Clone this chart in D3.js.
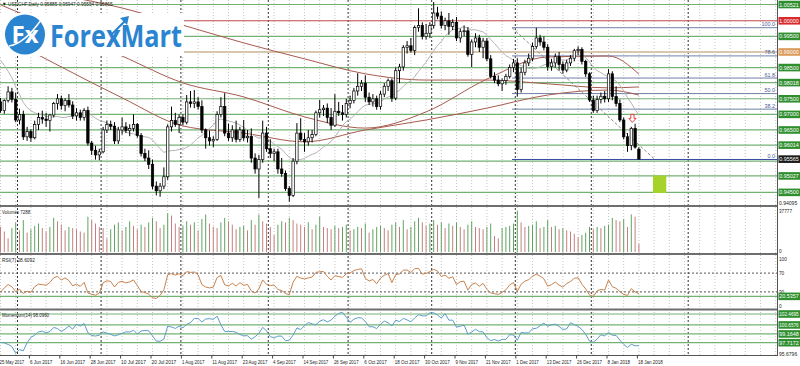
<!DOCTYPE html>
<html><head><meta charset="utf-8">
<script src="https://cdn.jsdelivr.net/npm/d3@7/dist/d3.min.js"></script>
<style>
html,body{margin:0;padding:0;background:#fff;}
svg{display:block;}
text{font-family:"Liberation Sans",Arial,sans-serif;}
</style></head><body>
<svg id="chart" width="800" height="366"></svg>
<script>
// ---------------- DATA ----------------
const titleText = "\u25BC USDCHF,Daily  0.95885 0.95947 0.95554 0.95865";
const tickIdx = [0,8,16,24,32,40,48,56,64,72,80,88,96,104,112,120,128,136,144,152,160,168];
const tickLabels = ["25 May 2017","6 Jun 2017","16 Jun 2017","28 Jun 2017","10 Jul 2017","20 Jul 2017","1 Aug 2017","11 Aug 2017","23 Aug 2017","4 Sep 2017","14 Sep 2017","26 Sep 2017","6 Oct 2017","18 Oct 2017","30 Oct 2017","9 Nov 2017","21 Nov 2017","1 Dec 2017","13 Dec 2017","26 Dec 2017","8 Jan 2018","18 Jan 2018"];

const open = [.9740,.9712,.9744,.9772,.9748,.9682,.9700,.9628,.9645,.9625,
.9668,.9690,.9685,.9680,.9698,.9735,.9750,.9728,.9745,.9730,
.9695,.9705,.9690,.9712,.9608,.9585,.9570,.9580,.9650,.9668,
.9662,.9615,.9650,.9660,.9648,.9655,.9668,.9632,.9575,.9560,
.9540,.9470,.9455,.9470,.9500,.9660,.9680,.9668,.9690,.9675,
.9740,.9735,.9740,.9725,.9650,.9625,.9615,.9620,.9700,.9725,
.9640,.9625,.9650,.9620,.9650,.9625,.9630,.9560,.9525,.9555,
.9640,.9590,.9575,.9580,.9525,.9510,.9462,.9440,.9550,.9640,
.9620,.9612,.9625,.9635,.9705,.9715,.9720,.9690,.9665,.9710,
.9705,.9700,.9735,.9745,.9775,.9790,.9800,.9755,.9740,.9750,
.9725,.9765,.9790,.9808,.9752,.9840,.9852,.9915,.9920,.9905,
.9978,.9985,.9950,.9960,.9985,1.0025,1.0015,.9985,1.0000,.9982,
.9995,.9945,.9965,.9968,.9892,.9932,.9945,.9915,.9935,.9878,
.9822,.9810,.9798,.9808,.9822,.9850,.9865,.9780,.9835,.9865,
.9880,.9918,.9945,.9932,.9915,.9853,.9865,.9885,.9860,.9842,
.9865,.9880,.9904,.9908,.9870,.9830,.9746,.9712,.9748,.9758,
.9750,.9830,.9757,.9735,.9682,.9628,.9600,.9655,.95885];
const high = [.9752,.9748,.9790,.9785,.9770,.9718,.9712,.9660,.9652,.9680,
.9705,.9712,.9705,.9700,.9740,.9765,.9760,.9752,.9765,.9742,
.9720,.9715,.9720,.9725,.9615,.9600,.9590,.9660,.9680,.9680,
.9675,.9660,.9690,.9675,.9668,.9700,.9672,.9640,.9590,.9585,
.9555,.9485,.9480,.9530,.9668,.9725,.9705,.9700,.9700,.9762,
.9775,.9778,.9755,.9745,.9655,.9648,.9630,.9710,.9755,.9768,
.9670,.9665,.9680,.9660,.9682,.9650,.9655,.9575,.9570,.9680,
.9660,.9620,.9590,.9590,.9560,.9520,.9470,.9560,.9672,.9688,
.9640,.9650,.9650,.9712,.9746,.9730,.9735,.9720,.9765,.9740,
.9730,.9750,.9760,.9785,.9832,.9810,.9825,.9770,.9765,.9760,
.9775,.9800,.9815,.9815,.9850,.9862,.9922,.9935,.9945,.9985,
1.0040,.9995,.9990,.9995,1.0060,1.0045,1.0030,1.0010,1.0025,1.0005,
1.0012,.9975,.9985,.9980,.9940,.9960,.9955,.9945,.9945,.9890,
.9835,.9825,.9815,.9830,.9860,.9878,.9880,.9850,.9875,.9895,
.9930,.9978,.9955,.9950,.9925,.9878,.9895,.9900,.9870,.9875,
.9890,.9910,.9918,.9915,.9875,.9835,.9760,.9760,.9770,.9775,
.9845,.9838,.9790,.9748,.9690,.9640,.9660,.9670,.95947];
const low = [.9705,.9702,.9738,.9738,.9675,.9668,.9618,.9615,.9612,.9620,
.9650,.9670,.9660,.9645,.9690,.9715,.9715,.9710,.9722,.9685,
.9680,.9680,.9680,.9600,.9570,.9555,.9553,.9575,.9640,.9650,
.9605,.9605,.9635,.9640,.9630,.9645,.9625,.9565,.9550,.9525,
.9460,.9440,.9436,.9460,.9490,.9645,.9660,.9640,.9665,.9668,
.9722,.9720,.9715,.9640,.9590,.9600,.9595,.9615,.9690,.9630,
.9615,.9612,.9610,.9612,.9615,.9610,.9545,.9510,.9432,.9545,
.9580,.9560,.9550,.9510,.9500,.9455,.9420,.9435,.9540,.9615,
.9580,.9600,.9610,.9630,.9690,.9695,.9672,.9650,.9660,.9695,
.9680,.9690,.9720,.9735,.9760,.9775,.9740,.9730,.9725,.9715,
.9715,.9755,.9775,.9740,.9745,.9800,.9840,.9895,.9898,.9890,
.9965,.9940,.9940,.9945,.9975,1.0005,.9975,.9970,.9955,.9970,
.9935,.9930,.9950,.9885,.9852,.9915,.9900,.9880,.9870,.9815,
.9800,.9790,.9775,.9795,.9815,.9835,.9757,.9770,.9825,.9855,
.9870,.9910,.9920,.9905,.9840,.9840,.9850,.9840,.9830,.9835,
.9855,.9870,.9890,.9860,.9820,.9740,.9705,.9705,.9735,.9738,
.9740,.9745,.9725,.9675,.9620,.9580,.9585,.9590,.95554];
const close = [.9712,.9744,.9772,.9748,.9682,.9700,.9628,.9645,.9625,.9668,
.9690,.9685,.9680,.9698,.9735,.9750,.9728,.9745,.9730,.9695,
.9705,.9690,.9712,.9608,.9585,.9570,.9580,.9650,.9668,.9662,
.9615,.9650,.9660,.9648,.9655,.9668,.9632,.9575,.9560,.9540,
.9470,.9455,.9470,.9500,.9660,.9680,.9668,.9690,.9675,.9740,
.9735,.9740,.9725,.9650,.9625,.9615,.9620,.9700,.9725,.9640,
.9625,.9650,.9620,.9650,.9625,.9630,.9560,.9525,.9555,.9640,
.9590,.9575,.9580,.9525,.9510,.9462,.9440,.9550,.9640,.9620,
.9612,.9625,.9635,.9705,.9715,.9720,.9690,.9665,.9710,.9705,
.9700,.9735,.9745,.9775,.9790,.9800,.9755,.9740,.9750,.9725,
.9765,.9790,.9808,.9752,.9840,.9852,.9915,.9920,.9905,.9978,
.9985,.9950,.9960,.9985,1.0025,1.0015,.9985,1.0000,.9982,.9995,
.9945,.9965,.9968,.9892,.9932,.9945,.9915,.9935,.9878,.9822,
.9810,.9798,.9808,.9822,.9850,.9865,.9780,.9835,.9865,.9880,
.9918,.9945,.9932,.9915,.9853,.9865,.9885,.9860,.9842,.9865,
.9880,.9904,.9908,.9870,.9830,.9746,.9712,.9748,.9758,.9750,
.9830,.9757,.9735,.9682,.9628,.9600,.9655,.9595,.95565];
// closes of the 14 sessions before 25 May 2017 (indicator warm-up)
const preCloses = [0.9935,0.9975,1.0030,1.0040,1.0090,1.0045,0.9990,0.9870,0.9762,0.9770,0.9738,0.9720,0.9745,0.9740];

const volume = [22000,18000,12000,21000,26000,19000,28000,17000,
20000,23000,25000,21000,18000,22000,30000,27000,
24000,19000,22000,21000,20000,18000,17000,31000,
28000,25000,22000,21000,12000,20000,24000,26000,
19000,22000,27000,23000,20000,24000,22000,26000,
30000,27000,21000,24000,34000,32000,25000,22000,
23000,27000,24000,26000,19000,29000,33000,25000,
22000,21000,26000,30000,27000,24000,20000,22000,
23000,19000,28000,24000,33000,27000,25000,22000,
15000,24000,27000,26000,30000,28000,25000,24000,
22000,26000,20000,24000,31000,22000,21000,20000,
23000,21000,22000,24000,19000,20000,22000,21000,
25000,17000,20000,22000,23000,21000,19000,24000,
26000,22000,28000,20000,22000,27000,30000,26000,
23000,25000,28000,24000,26000,21000,25000,23000,
26000,22000,20000,24000,27000,22000,21000,20000,
22000,25000,14000,12000,21000,22000,23000,25000,
36000,26000,22000,23000,24000,27000,21000,22000,
28000,22000,23000,20000,21000,19000,18000,16000,
13000,15000,17000,22000,20000,22000,21000,23000,
24000,30000,28000,27000,29000,22000,33000,31000,
7288];

const maIdx = [0,16,32,48,64,80,96,112,128,144,160,168];
const maA = [1.0051,0.9970,0.9887,0.9801,0.9756,0.9692,0.9656,0.9708,0.9813,0.9884,0.9887,0.9829];
const maB = [0.9954,0.9852,0.9753,0.9663,0.9640,0.9612,0.9650,0.9682,0.9720,0.9762,0.9778,0.9762];
const maC = [1.0131,1.0083,1.0041,0.9986,0.9929,0.9878,0.9830,0.9810,0.9810,0.9798,0.9785,0.9788];

// horizontal levels
const greenLevels = [1.00521,0.99500,0.98500,0.98018,0.97500,0.97000,0.96500,0.96014,0.95500,0.95027,0.94500];
const redLevel = 1.00000;
const beigeLevel = 0.99000;
const priceMin = 0.94095, priceMax = 1.00666;
// fibonacci
const fibHigh = 0.99778, fibLow = 0.95554;
const fibRatios = [0, 38.2, 50.0, 61.8, 78.6, 100.0];
const fibStartIdx = 134.6, fibEndIdx = 172.2;
// annotations
const arrowIdx = 166.3, arrowPrice = 0.9700;
const boxIdx = [171.7, 175.2], boxPrice = [0.9504, 0.9448];
const futureSepIdx = 181.5;
// indicator panel texts/levels
const volMax = 37777, volLabel = "Volumes 7288";
const rsiLabel = "RSI(7) 28.6092", rsiLevels = [70, 30], rsiGreen = 20.5357, rsiTicks = [100,70,30,0];
const momLabel = "Momentum(14) 98.0960", momLevels = [102.4695,100.6576,99.1648,97.7172], momMin = 95.6796;

// ---------------- DRAW ----------------
const svg = d3.select('#chart');
const PR = 777;               // right edge of plotting area
const n = close.length;
const x = d3.scaleLinear().domain([0, 200]).range([0.5, 760.5]);
const yP = d3.scaleLinear().domain([priceMin, priceMax]).range([205, 0]);
const yV = d3.scaleLinear().domain([0, volMax]).range([252, 209]);
const yR = d3.scaleLinear().domain([0, 100]).range([306, 259]);
const yM = d3.scaleLinear().domain([momMin, momLevels[0]]).range([355, 314]);

const defs = svg.append('defs');
function clip(id, y0, h){ defs.append('clipPath').attr('id',id).append('rect').attr('x',0).attr('y',y0).attr('width',PR).attr('height',h); }
clip('cp',0,205); clip('cv',207,46); clip('cr',255,53); clip('cm',310,45);

// trading calendar (weekdays, excluding 25 Dec and 1 Jan)
const dates = [];
{ let d = new Date(Date.UTC(2017,4,25));
  while (dates.length < 205) {
    const wd = d.getUTCDay(), md = (d.getUTCMonth()+1)*100 + d.getUTCDate();
    if (wd !== 0 && wd !== 6 && md !== 1225 && md !== 101) dates.push(new Date(d));
    d.setUTCDate(d.getUTCDate()+1);
  } }
const monthStarts = d3.range(1, dates.length).filter(i => dates[i].getUTCMonth() !== dates[i-1].getUTCMonth() && x(i) < 660);

// vertical dotted grid
const gGrid = svg.append('g');
for (let k = 0; x(k) < PR; k += 4) {
  gGrid.append('line').attr('x1', x(k)).attr('x2', x(k)).attr('y1', 0).attr('y2', 355)
    .attr('stroke', '#c4c4c4').attr('stroke-width', 1).attr('stroke-dasharray', '1,2');
}
// month separators
monthStarts.concat([futureSepIdx]).forEach(i => {
  gGrid.append('line').attr('x1', x(i) - 2).attr('x2', x(i) - 2).attr('y1', 0).attr('y2', 355)
    .attr('stroke', '#333').attr('stroke-width', 1).attr('stroke-dasharray', '2,2');
});

// ---- price panel ----
const gP = svg.append('g').attr('clip-path', 'url(#cp)');
greenLevels.forEach(p => gP.append('line').attr('x1',0).attr('x2',PR).attr('y1',yP(p)).attr('y2',yP(p)).attr('stroke','#74b274').attr('stroke-width',1.2));
gP.append('line').attr('x1',0).attr('x2',PR).attr('y1',yP(redLevel)).attr('y2',yP(redLevel)).attr('stroke','#c04848').attr('stroke-width',1);
gP.append('line').attr('x1',0).attr('x2',PR).attr('y1',yP(beigeLevel)).attr('y2',yP(beigeLevel)).attr('stroke','#d9c7ad').attr('stroke-width',2);

// fibonacci
const fibP = r => fibLow + (fibHigh - fibLow) * r / 100;
fibRatios.forEach(r => {
  gP.append('line').attr('x1', x(fibStartIdx)).attr('x2', PR).attr('y1', yP(fibP(r))).attr('y2', yP(fibP(r)))
    .attr('stroke', r === 0 ? '#3848a0' : '#7080a8').attr('stroke-width', 1);
  gP.append('text').attr('x', PR - 2).attr('y', yP(fibP(r)) - 1.5).attr('text-anchor','end')
    .attr('font-size', 5.4).attr('fill', '#4a5a9a').text(d3.format('.1f')(r));
});
gP.append('line').attr('x1', x(fibStartIdx)).attr('y1', yP(fibHigh)).attr('x2', x(fibEndIdx)).attr('y2', yP(fibLow))
  .attr('stroke', '#8a8a8a').attr('stroke-width', 1).attr('stroke-dasharray', '3,2');

// moving averages
const maLine = d3.line().x(d => x(d[0])).y(d => yP(d[1])).curve(d3.curveMonotoneX);
[maC, maA, maB].forEach(arr => {
  gP.append('path').attr('d', maLine(maIdx.map((i,k)=>[i, arr[k]]))).attr('fill','none')
    .attr('stroke', '#a85a4e').attr('stroke-width', 1);
});
const allC = preCloses.concat(close);
const sma14 = close.map((c, i) => d3.mean(allC.slice(i + 1, i + 15)));
gP.append('path').attr('d', d3.line().x((d,i)=>x(i)).y(d=>yP(d))(sma14)).attr('fill','none')
  .attr('stroke', '#b4b4b4').attr('stroke-width', 1);

// candles
const bars = d3.range(n).map(i => ({i, o: open[i], h: high[i], l: low[i], c: close[i]}));
gP.selectAll('line.wick').data(bars).join('line').attr('class','wick')
  .attr('x1', d => x(d.i)).attr('x2', d => x(d.i)).attr('y1', d => yP(d.h)).attr('y2', d => yP(d.l))
  .attr('stroke', '#000').attr('stroke-width', 1);
gP.selectAll('rect.body').data(bars).join('rect').attr('class','body')
  .attr('x', d => x(d.i) - 1.2).attr('width', 2.4)
  .attr('y', d => yP(Math.max(d.o, d.c)))
  .attr('height', d => Math.max(0.8, Math.abs(yP(d.o) - yP(d.c))))
  .attr('fill', d => d.c >= d.o ? '#fff' : '#000').attr('stroke', '#000').attr('stroke-width', 0.7);

// annotations
{ const cx = x(arrowIdx), t = yP(arrowPrice);
  gP.append('path').attr('d', `M${cx-1.6},${t} L${cx+1.6},${t} L${cx+1.6},${t+4} L${cx+3.6},${t+4} L${cx},${t+8} L${cx-3.6},${t+4} L${cx-1.6},${t+4} Z`)
    .attr('fill', '#fff').attr('stroke', '#e04040').attr('stroke-width', 1); }
gP.append('rect').attr('x', x(boxIdx[0])).attr('width', x(boxIdx[1]) - x(boxIdx[0]))
  .attr('y', yP(boxPrice[0])).attr('height', yP(boxPrice[1]) - yP(boxPrice[0])).attr('fill', '#a6d22c');

// ---- volume panel ----
const gV = svg.append('g').attr('clip-path', 'url(#cv)');
gV.selectAll('line').data(volume).join('line')
  .attr('x1', (d,i) => x(i)).attr('x2', (d,i) => x(i)).attr('y1', yV(0)).attr('y2', d => yV(d))
  .attr('stroke', (d,i) => (i > 0 && d > volume[i-1]) ? '#5fa35f' : '#c48080').attr('stroke-width', 1);

// ---- RSI panel ----
const P = 7; let ag = 0, al = 0; const rsiAll = [];
for (let k = 1; k < allC.length; k++) {
  const ch = allC[k] - allC[k-1], g = Math.max(ch, 0), l = Math.max(-ch, 0);
  if (k <= P) { ag += g / P; al += l / P; } else { ag = (ag * (P-1) + g) / P; al = (al * (P-1) + l) / P; }
  rsiAll[k] = k >= P ? (al === 0 ? 100 : 100 - 100 / (1 + ag / al)) : null;
}
const rsi = close.map((c, i) => rsiAll[i + 14]);
const gR = svg.append('g').attr('clip-path', 'url(#cr)');
rsiLevels.forEach(v => gR.append('line').attr('x1',0).attr('x2',PR).attr('y1',yR(v)).attr('y2',yR(v))
  .attr('stroke','#555').attr('stroke-width',1).attr('stroke-dasharray','2,2'));
gR.append('line').attr('x1',0).attr('x2',PR).attr('y1',yR(rsiGreen)).attr('y2',yR(rsiGreen)).attr('stroke','#74b274').attr('stroke-width',1.2);
gR.append('path').attr('d', d3.line().x((d,i)=>x(i)).y(d=>yR(d))(rsi)).attr('fill','none').attr('stroke','#c8834e').attr('stroke-width',1);

// ---- Momentum panel ----
const mom = close.map((c, i) => allC[i + 14] / allC[i] * 100);
const gM = svg.append('g').attr('clip-path', 'url(#cm)');
momLevels.forEach(v => gM.append('line').attr('x1',0).attr('x2',PR).attr('y1',yM(v)).attr('y2',yM(v)).attr('stroke','#74b274').attr('stroke-width',1.2));
gM.append('path').attr('d', d3.line().x((d,i)=>x(i)).y(d=>yM(d))(mom)).attr('fill','none').attr('stroke','#5b9ec6').attr('stroke-width',1);

// panel separators
[205, 253, 308.5].forEach(y => svg.append('rect').attr('x',0).attr('y',y).attr('width',PR).attr('height',2).attr('fill','#6e6e6e'));
svg.append('line').attr('x1',0).attr('x2',PR).attr('y1',355.5).attr('y2',355.5).attr('stroke','#555');

// ---- logo ----
const logo = svg.append('g');
logo.append('rect').attr('x',0).attr('y',13).attr('width',184).attr('height',43).attr('fill','#fff');
logo.append('circle').attr('cx',25).attr('cy',34.5).attr('r',20).attr('fill','#2a84cf');
logo.append('path').attr('d','M9,46 Q24,44 41,20').attr('fill','none').attr('stroke','#fff').attr('stroke-width',1.5);
logo.append('text').attr('x',25).attr('y',43).attr('text-anchor','middle').attr('fill','#fff')
  .attr('font-size',24).attr('font-weight','bold').style('font-family','"Open Sans",sans-serif').text('Fx');
logo.append('text').attr('x',50).attr('y',47).attr('fill','#2a84cf').attr('font-size',30).attr('font-weight','bold')
  .attr('textLength',132).attr('lengthAdjust','spacingAndGlyphs').style('font-family','"Open Sans",sans-serif').text('ForexMart');
logo.append('path').attr('d','M112,34 L126,20').attr('stroke','#2a84cf').attr('stroke-width',2.2);
logo.append('path').attr('d','M120,18 L129,16 L127,25 Z').attr('fill','#2a84cf');

// ---- texts ----
function smallText(xp, yp, txt, size, fill){
  return svg.append('text').attr('x',xp).attr('y',yp).attr('font-size',size).attr('fill',fill)
    .attr('textLength', txt.length * size * 0.42).attr('lengthAdjust','spacingAndGlyphs').text(txt);
}
smallText(2, 5.5, titleText, 5.6, '#222');
smallText(2, 214, volLabel, 5.6, '#222');
smallText(2, 262, rsiLabel, 5.6, '#222');
smallText(2, 316.5, momLabel, 5.6, '#222');

// ---- right scale ----
svg.append('rect').attr('x',PR).attr('y',0).attr('width',800-PR).attr('height',366).attr('fill','#fff');
svg.append('line').attr('x1',PR+0.5).attr('x2',PR+0.5).attr('y1',0).attr('y2',356).attr('stroke','#555');
const fmt5 = d3.format('.5f'), fmt4 = d3.format('.4f');
function boxLabel(y, txt, fill){
  svg.append('rect').attr('x',PR+1.5).attr('y',y-3.8).attr('width',21.5).attr('height',7.6).attr('fill',fill);
  svg.append('text').attr('x',PR+2.2).attr('y',y+2).attr('font-size',5.2).attr('fill','#fff')
    .attr('textLength',19.5).attr('lengthAdjust','spacingAndGlyphs').text(txt);
}
function plainLabel(y, txt){
  svg.append('text').attr('x',PR+2).attr('y',y+2).attr('font-size',5.4).attr('fill','#222')
    .attr('textLength', Math.min(20, txt.length * 2.6)).attr('lengthAdjust','spacingAndGlyphs').text(txt);
}
const lastY = yP(close[n-1]);
greenLevels.filter(p => Math.abs(yP(p) - lastY) > 5).forEach(p => boxLabel(yP(p), fmt5(p), '#2f8f2f'));
boxLabel(yP(redLevel), fmt5(redLevel), '#d82a2a');
boxLabel(yP(beigeLevel), fmt5(beigeLevel), '#d99a5a');
boxLabel(lastY, fmt5(close[n-1]), '#1a1a1a');
plainLabel(203, fmt5(priceMin));
plainLabel(211, String(volMax));
plainLabel(yV(0) - 1, '0');
rsiTicks.forEach(v => plainLabel(yR(v), String(v)));
boxLabel(yR(rsiGreen), fmt4(rsiGreen), '#2f8f2f');
momLevels.forEach(v => boxLabel(yM(v), fmt4(v), '#2f8f2f'));
plainLabel(yM(momMin) - 1, fmt4(momMin));

// ---- time axis ----
const ax = svg.append('g').attr('transform','translate(0,355.5)')
  .call(d3.axisBottom(x).tickValues(tickIdx).tickFormat((d,k) => tickLabels[k]).tickSize(3).tickSizeOuter(0));
ax.select('.domain').remove();
ax.selectAll('.tick line').attr('stroke','#444').attr('transform','translate(-2,0)');
ax.selectAll('.tick text').attr('text-anchor','start').attr('dx', -1.5).attr('y', 4.5)
  .attr('font-size',5.4).attr('fill','#222').style('font-family','"Liberation Sans",Arial,sans-serif')
  .attr('textLength', function(){ return this.textContent.length * 2.25; }).attr('lengthAdjust','spacingAndGlyphs');
</script>
</body></html>
